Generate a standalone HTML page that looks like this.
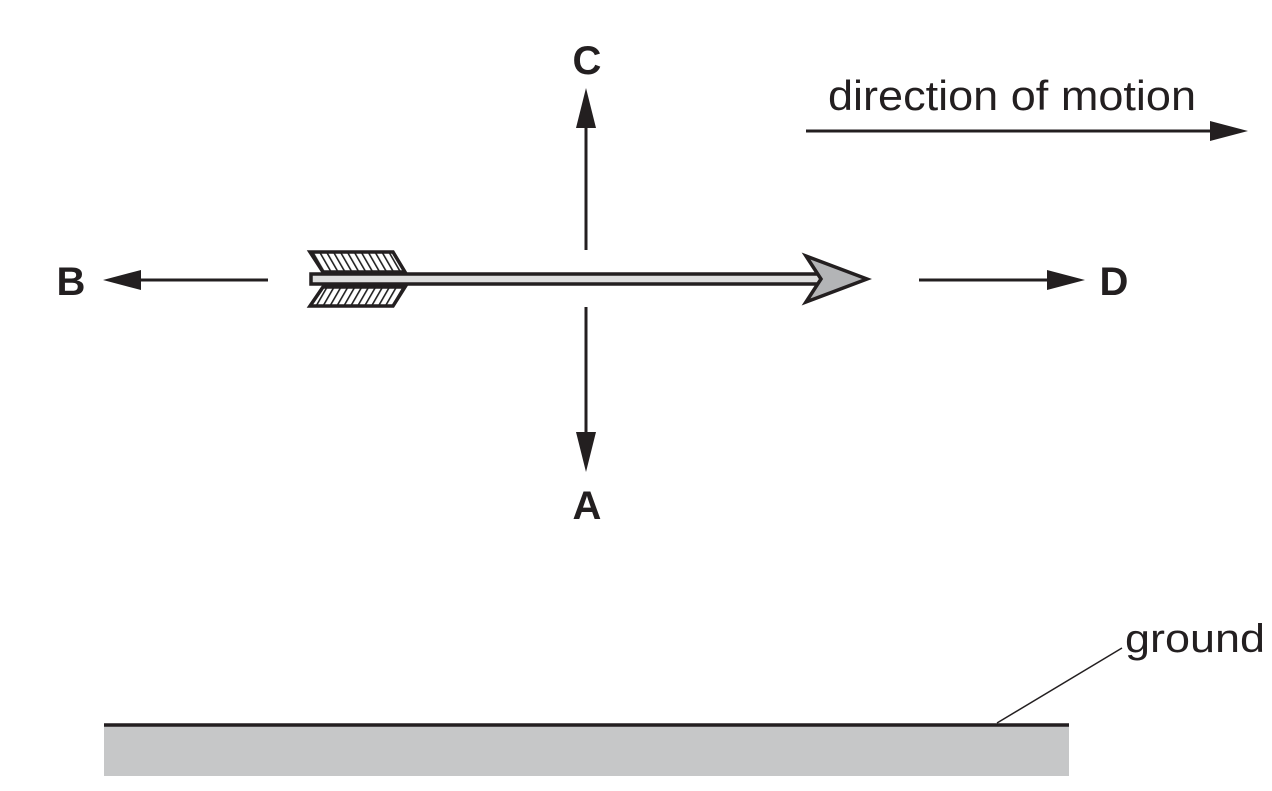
<!DOCTYPE html>
<html><head><style>body{margin:0;background:#fff}svg{display:block}</style></head><body>
<svg width="1272" height="791" viewBox="0 0 1272 791" xmlns="http://www.w3.org/2000/svg" font-family="Liberation Sans, Arial, sans-serif">
<defs>
<pattern id="h1" width="6" height="6" patternUnits="userSpaceOnUse" patternTransform="rotate(-30)">
<rect width="6" height="6" fill="#fff"/><rect width="1.6" height="6" fill="#222"/></pattern>
<pattern id="h2" width="6" height="6" patternUnits="userSpaceOnUse" patternTransform="rotate(30)">
<rect width="6" height="6" fill="#fff"/><rect width="1.6" height="6" fill="#222"/></pattern>
</defs>
<g fill="#231f20" stroke="#231f20">
<line x1="586" y1="250" x2="586" y2="125" stroke-width="3"/>
<polygon points="586,88 576,128 596,128" stroke="none"/>
<line x1="586" y1="307" x2="586" y2="435" stroke-width="3"/>
<polygon points="586,472 576,432 596,432" stroke="none"/>
<line x1="268" y1="280" x2="135" y2="280" stroke-width="3"/>
<polygon points="103,280 141,270 141,290" stroke="none"/>
<line x1="919" y1="280" x2="1052" y2="280" stroke-width="3"/>
<polygon points="1085,280 1047,270 1047,290" stroke="none"/>
<line x1="806" y1="131" x2="1215" y2="131" stroke-width="3"/>
<polygon points="1248,131 1210,121 1210,141" stroke="none"/>
</g>
<g font-weight="bold" font-size="40" fill="#231f20" text-anchor="middle">
<text x="587" y="74">C</text>
<text x="587" y="519">A</text>
<text x="71" y="295">B</text>
<text x="1114" y="295">D</text>
</g>
<text x="828" y="110" font-size="42" fill="#231f20" textLength="368" lengthAdjust="spacingAndGlyphs">direction of motion</text>
<text x="1125" y="652" font-size="40" fill="#231f20" textLength="140" lengthAdjust="spacingAndGlyphs">ground</text>
<polygon points="310,252 393,252 405,272 323,272" fill="url(#h1)" stroke="#231f20" stroke-width="3.5"/>
<polygon points="323,287 405,287 393,306 310,306" fill="url(#h2)" stroke="#231f20" stroke-width="3.5"/>
<rect x="311" y="274" width="510" height="10" fill="#ddd" stroke="#231f20" stroke-width="3.5"/>
<polygon points="806,256 867,279 806,302 821,279" fill="#b3b4b6" stroke="#231f20" stroke-width="3.5"/>
<rect x="104" y="726" width="965" height="50" fill="#c6c7c8"/>
<line x1="104" y1="725" x2="1069" y2="725" stroke="#231f20" stroke-width="3.5"/>
<line x1="997" y1="723" x2="1122" y2="648" stroke="#231f20" stroke-width="1.5"/>
</svg>
</body></html>
